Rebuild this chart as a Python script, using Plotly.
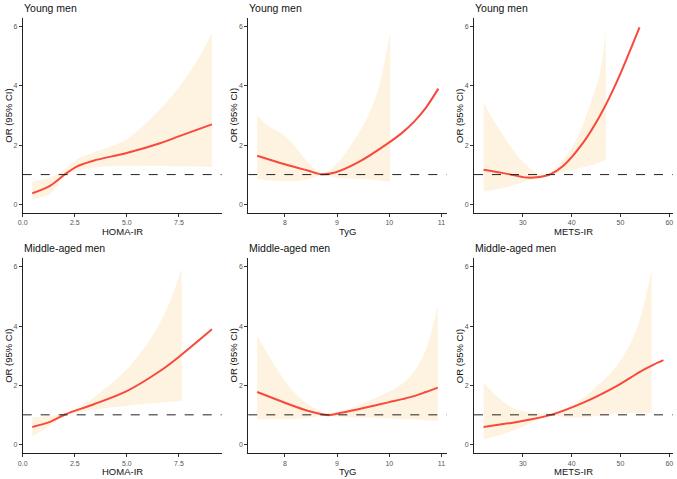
import plotly.graph_objects as go

W, H = 677, 479

titles = ["Young men", "Young men", "Young men",
          "Middle-aged men", "Middle-aged men", "Middle-aged men"]
xlabels = ["HOMA-IR", "TyG", "METS-IR", "HOMA-IR", "TyG", "METS-IR"]
ylabel = "OR (95% CI)"

# ---- Young men, HOMA-IR
p1_x = [0.46, 1.31, 2.03, 2.59, 3.39, 4.99, 6.59, 7.55, 9.08]
p1_y = [0.37, 0.62, 1.01, 1.27, 1.47, 1.73, 2.06, 2.31, 2.70]
p1_cx = [0.46, 1.31, 2.03, 2.59, 3.39, 4.99, 6.59, 7.55, 8.51, 9.08]
p1_lo = [0.17, 0.34, 0.96, 1.13, 1.24, 1.30, 1.29, 1.28, 1.27, 1.26]
p1_hi = [0.77, 0.90, 1.18, 1.52, 1.75, 2.20, 3.21, 4.00, 5.02, 5.81]

# ---- Young men, TyG
p2_x = [7.47, 8.00, 8.45, 8.70, 8.96, 9.40, 10.00, 10.25, 10.49, 10.70, 10.94]
p2_y = [1.64, 1.35, 1.13, 1.01, 1.07, 1.41, 2.09, 2.42, 2.82, 3.26, 3.91]
p2_cx = [7.47, 7.68, 8.00, 8.19, 8.45, 8.70, 8.96, 9.21, 9.53, 9.79, 10.02]
p2_lo = [0.85, 0.80, 0.77, 0.78, 0.85, 0.98, 0.90, 0.87, 0.85, 0.80, 0.76]
p2_hi = [3.01, 2.65, 2.31, 1.97, 1.41, 1.05, 1.30, 1.86, 2.76, 3.89, 5.86]

# ---- Young men, METS-IR
p3_x = [21.96, 26.0, 30.8, 32.9, 35.6, 38.3, 42.4, 45.8, 49.2, 53.9]
p3_y = [1.16, 1.05, 0.90, 0.91, 1.01, 1.30, 2.09, 2.99, 4.12, 5.98]
p3_cx = [21.96, 24.7, 27.4, 30.8, 33.6, 35.6, 38.3, 41.0, 43.7, 45.8, 47.0]
p3_lo = [0.42, 0.50, 0.60, 0.79, 0.88, 0.98, 1.10, 1.20, 1.30, 1.42, 1.49]
p3_hi = [3.42, 2.65, 1.97, 1.30, 1.01, 1.07, 1.52, 2.20, 3.33, 4.45, 5.86]

# ---- Middle-aged men, HOMA-IR
p4_x = [0.46, 1.31, 2.03, 3.39, 4.99, 6.59, 7.55, 9.08]
p4_y = [0.59, 0.76, 1.01, 1.35, 1.80, 2.48, 2.99, 3.89]
p4_cx = [0.46, 1.31, 2.03, 2.91, 3.71, 4.99, 6.11, 6.91, 7.63]
p4_lo = [0.28, 0.62, 0.96, 1.12, 1.20, 1.30, 1.38, 1.43, 1.47]
p4_hi = [0.92, 0.96, 1.05, 1.35, 1.75, 2.54, 3.55, 4.57, 5.94]

# ---- Middle-aged men, TyG
p5_x = [7.47, 8.00, 8.45, 8.83, 9.08, 9.53, 10.00, 10.25, 10.49, 10.70, 10.93]
p5_y = [1.77, 1.41, 1.13, 0.99, 1.07, 1.24, 1.43, 1.53, 1.64, 1.77, 1.92]
p5_cx = [7.47, 7.81, 8.13, 8.45, 8.77, 9.08, 9.53, 10.04, 10.25, 10.49, 10.70, 10.93]
p5_lo = [0.85, 0.85, 0.86, 0.90, 0.98, 0.93, 0.90, 0.88, 0.86, 0.85, 0.82, 0.79]
p5_hi = [3.67, 2.65, 1.86, 1.35, 1.07, 1.13, 1.41, 1.82, 2.05, 2.50, 3.20, 4.68]

# ---- Middle-aged men, METS-IR
p6_x = [21.96, 28.8, 35.6, 42.4, 49.2, 52.0, 54.7, 56.8, 58.8]
p6_y = [0.59, 0.76, 0.99, 1.41, 1.97, 2.25, 2.52, 2.70, 2.85]
p6_cx = [21.96, 25.4, 28.8, 35.6, 39.7, 43.7, 49.2, 53.3, 56.4]
p6_lo = [0.17, 0.32, 0.51, 0.96, 0.90, 0.93, 1.05, 1.06, 1.07]
p6_hi = [2.09, 1.52, 1.18, 1.05, 1.30, 1.75, 2.65, 3.89, 5.92]

panels = [
    (p1_x, p1_y, p1_cx, p1_lo, p1_hi),
    (p2_x, p2_y, p2_cx, p2_lo, p2_hi),
    (p3_x, p3_y, p3_cx, p3_lo, p3_hi),
    (p4_x, p4_y, p4_cx, p4_lo, p4_hi),
    (p5_x, p5_y, p5_cx, p5_lo, p5_hi),
    (p6_x, p6_y, p6_cx, p6_lo, p6_hi),
]

xranges = [[0, 9.55], [7.30, 11.10], [20.0, 60.7]]
xticks = [([0, 2.5, 5, 7.5], ["0.0", "2.5", "5.0", "7.5"]),
          ([8, 9, 10, 11], ["8", "9", "10", "11"]),
          ([30, 40, 50, 60], ["30", "40", "50", "60"])]
yrange = [-0.3, 6.3]

# pixel boxes of panels (left, right) and (top, bottom)
cols_px = [(22.7, 221.7), (248.3, 446.7), (474.0, 672.7)]
rows_px = [(18.0, 213.0), (258.0, 453.3)]

LINE = "#F8493C"
BAND = "#FEF3E0"
FONT = "Liberation Sans, Arial, sans-serif"
TICKC = "#555555"

fig = go.Figure()
layout = {}
shapes = []
annotations = []

for i, (px, py, cx, lo, hi) in enumerate(panels):
    r, c = divmod(i, 3)
    n = i + 1
    xa = "x" if n == 1 else f"x{n}"
    ya = "y" if n == 1 else f"y{n}"
    xkey = "xaxis" if n == 1 else f"xaxis{n}"
    ykey = "yaxis" if n == 1 else f"yaxis{n}"

    fig.add_trace(go.Scatter(x=cx, y=lo, mode="lines", line=dict(width=0, shape="spline", smoothing=0.9),
                             xaxis=xa, yaxis=ya, showlegend=False, hoverinfo="skip"))
    fig.add_trace(go.Scatter(x=cx, y=hi, mode="lines", line=dict(width=0, shape="spline", smoothing=0.9),
                             fill="tonexty", fillcolor=BAND,
                             xaxis=xa, yaxis=ya, showlegend=False, hoverinfo="skip"))
    fig.add_trace(go.Scatter(x=px, y=py, mode="lines", line=dict(color=LINE, width=2, shape="spline", smoothing=0.9),
                             xaxis=xa, yaxis=ya, showlegend=False))

    l, rr = cols_px[c]
    t, b = rows_px[r]
    dom_x = [l / W, rr / W]
    dom_y = [1 - b / H, 1 - t / H]
    tv, tt = xticks[c]
    layout[xkey] = dict(domain=dom_x, range=xranges[c], anchor=ya, showgrid=False, zeroline=False,
                        automargin=False, fixedrange=True,
                        showline=True, linecolor="#222222", linewidth=1,
                        ticks="outside", ticklen=3, tickcolor="#333333", tickwidth=1,
                        tickvals=tv, ticktext=tt, tickfont=dict(size=7, color=TICKC, family=FONT))
    layout[ykey] = dict(domain=dom_y, range=yrange, anchor=xa, showgrid=False, zeroline=False,
                        automargin=False, fixedrange=True,
                        showline=True, linecolor="#222222", linewidth=1,
                        ticks="outside", ticklen=3, tickcolor="#333333", tickwidth=1,
                        tickvals=[0, 2, 4, 6], tickfont=dict(size=7, color=TICKC, family=FONT))
    shapes.append(dict(type="line", xref=f"{xa} domain", yref=ya, x0=0, x1=1, y0=1, y1=1,
                       line=dict(color="#222222", width=1, dash="dash"), layer="above"))
    annotations.append(dict(text=titles[i], xref="paper", yref="paper", x=(l - 1) / W, y=1 - (t - 2) / H,
                            xanchor="left", yanchor="bottom", showarrow=False,
                            font=dict(size=10.5, color="#111111", family=FONT)))
    annotations.append(dict(text=xlabels[i], xref="paper", yref="paper", x=(l + rr) / 2 / W,
                            y=1 - (b + 18.5) / H, xanchor="center", yanchor="middle", showarrow=False,
                            font=dict(size=9.5, color="#111111", family=FONT)))
    annotations.append(dict(text=ylabel, xref="paper", yref="paper", x=(l - 14.5) / W,
                            y=1 - ((t + b) / 2) / H, xanchor="center", yanchor="middle", showarrow=False,
                            textangle=-90, font=dict(size=9.5, color="#111111", family=FONT)))

fig.update_layout(**layout)
fig.update_layout(width=W, height=H, margin=dict(l=0, r=0, t=0, b=0),
                  plot_bgcolor="white", paper_bgcolor="white", hovermode=False,
                  shapes=shapes, annotations=annotations, showlegend=False)

fig.write_html("out.html", config={"displayModeBar": False, "staticPlot": True},
               post_script="document.body.style.margin='0';document.body.style.overflow='hidden';")
